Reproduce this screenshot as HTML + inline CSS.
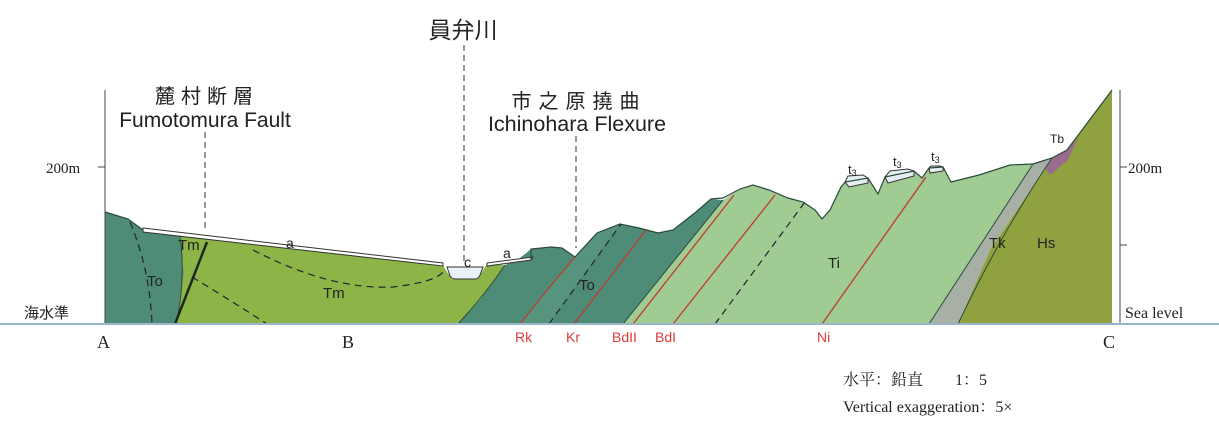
<!DOCTYPE html>
<html><head><meta charset="utf-8"><style>
body{margin:0;background:#fff;}
svg{display:block;}
text{font-family:"Liberation Sans","Noto Sans CJK JP",sans-serif;}
.s{font-family:"Liberation Serif","Noto Serif CJK SC",serif;}
</style></head><body>
<svg width="1219" height="427" viewBox="0 0 1219 427" xmlns="http://www.w3.org/2000/svg">
<polygon fill="#a0cc93" points="610,324 623,324 723,200 740,189 753,185 769,190 788,198 803,202 815,210 822,219 830,210 841,187 845,182 868,178 878,194 885,177 914,171 922,178 929,168 943,167 951,182 979,175 1010,165 1033,164 1052,158 929,324"/>
<polygon fill="#a8b0a6" points="929,324 1033,164 1052,158 990,250 958,324"/>
<polygon fill="#8fa23f" points="958,324 990,250 1052,158 1067,150 1112,90 1112,324"/>
<polygon fill="#9a6c8c" points="1045,168 1052,158 1067,150 1078,138 1068,160 1050,175"/>
<polygon fill="#4f8c78" points="458,324 480,300 505,265 520,258 531,249 551,247 562,248 575,257 597,233 620,224 639,228 658,233 673,230 696,212 711,199 723,200 623,324"/>
<polygon fill="#5d9a82" opacity="0.6" points="520,324 575,257 597,233 620,224 549,324"/>
<polygon fill="#8cb447" points="176,324 180,280 180,236 443,265 447,272 452,279 478,279 483,270 487,264 505,265 480,300 458,324"/>
<polygon fill="#4f8c78" points="105,324 105,212 128,219 143,230 180,235 184,270 176,324"/>
<polygon fill="#8cb447" points="180,235 207,239 190,280 183,270"/>
<polygon fill="#fff" stroke="#333" stroke-width="1" points="143,228 443,263 443,266 143,232"/>
<polygon fill="#fff" stroke="#333" stroke-width="1" points="487,263 533,257 531,260 487,266"/>
<path d="M447,267 L450,276 Q452,279 456,279 L476,279 Q479,278 480,275 L483,267 Z" fill="#e8f2f8" stroke="#333" stroke-width="1"/>
<polygon fill="#e6eef4" stroke="#333" stroke-width="1" points="845,182 849,187 868,183 868,178 863,175 848,176"/>
<polygon fill="#e6eef4" stroke="#333" stroke-width="1" points="885,177 888,183 914,176 914,171 908,169 890,171"/>
<polygon fill="#e6eef4" stroke="#333" stroke-width="1" points="929,168 930,173 943,171 943,167 940,166 931,166"/>
<polyline fill="none" stroke="#2a4a3a" stroke-width="1.2" points="105,212 128,219 143,230"/>
<polyline fill="none" stroke="#2a4a3a" stroke-width="1.2" points="531,260 531,249 551,247 562,248 575,257 597,233 620,224 639,228 658,233 673,230 696,212 711,199 723,198 740,189 753,185 769,190 788,198 803,202 815,210 822,219 830,210 841,187 845,182 868,178 878,194 885,177 914,171 922,178 929,168 943,167 951,182 979,175 1010,165 1033,164 1052,158 1067,150 1112,90"/>
<path d="M176,324 Q186,280 180,236" fill="none" stroke="#2a4a3a" stroke-width="1"/>
<path d="M458,324 Q485,295 505,265" fill="none" stroke="#2a4a3a" stroke-width="1"/>
<line x1="623" y1="324" x2="723" y2="200" stroke="#2a4a3a" stroke-width="1"/>
<line x1="929" y1="324" x2="1033" y2="164" stroke="#2a4a3a" stroke-width="1"/>
<path d="M958,324 Q1000,235 1052,158" fill="none" stroke="#2a4a3a" stroke-width="1"/>
<line x1="175" y1="324" x2="207" y2="242" stroke="#1a2a20" stroke-width="2.5"/>
<g fill="none" stroke="#223" stroke-width="1.2" stroke-dasharray="7,5">
<path d="M130,222 Q150,270 152,324"/>
<path d="M253,250 Q330,290 393,287 Q435,282 443,272"/>
<path d="M192,277 Q230,300 267,324"/>
<path d="M549,324 L621,224"/>
<path d="M715,324 L805,202"/>
</g>
<g fill="none" stroke="#c03a2a" stroke-width="1.3">
<path d="M520,324 Q555,280 575,257"/>
<path d="M574,324 L646,230"/>
<path d="M633,324 L734,195"/>
<path d="M673,324 L775,195"/>
<path d="M822,324 L926,177"/>
</g>
<line x1="105" y1="90" x2="105" y2="324" stroke="#444" stroke-width="1"/>
<line x1="1120" y1="90" x2="1120" y2="324" stroke="#444" stroke-width="1"/>
<line x1="98" y1="167" x2="105" y2="167" stroke="#444"/>
<line x1="1120" y1="167" x2="1127" y2="167" stroke="#444"/>
<line x1="1120" y1="245" x2="1127" y2="245" stroke="#444"/>
<line x1="0" y1="324" x2="1219" y2="324" stroke="#9ab6c8" stroke-width="2"/>
<g stroke="#333" stroke-width="1" stroke-dasharray="6,4">
<line x1="205" y1="132" x2="205" y2="232"/>
<line x1="464" y1="45" x2="464" y2="262"/>
<line x1="576" y1="136" x2="576" y2="248"/>
</g>
<g fill="#222">
<text x="207" y="103" font-size="20" text-anchor="middle" letter-spacing="6">麓村断層</text>
<text x="205" y="127" font-size="21" text-anchor="middle">Fumotomura Fault</text>
<text x="463" y="38" font-size="23" text-anchor="middle">員弁川</text>
<text x="579" y="108" font-size="20" text-anchor="middle" letter-spacing="7">市之原撓曲</text>
<text x="577" y="131" font-size="21.5" text-anchor="middle">Ichinohara Flexure</text>
<text class="s" x="46" y="173" font-size="15">200m</text>
<text class="s" x="1128" y="173" font-size="15">200m</text>
<text x="24" y="318" font-size="15">海水準</text>
<text class="s" x="1125" y="318" font-size="16">Sea level</text>
<text class="s" x="97" y="348" font-size="18">A</text>
<text class="s" x="342" y="348" font-size="18">B</text>
<text class="s" x="1103" y="348" font-size="18">C</text>
<text x="286" y="248" font-size="14">a</text>
<text x="503" y="258" font-size="14">a</text>
<text x="464" y="267" font-size="14">c</text>
<text x="178" y="250" font-size="15">Tm</text>
<text x="323" y="298" font-size="15">Tm</text>
<text x="147" y="286" font-size="15">To</text>
<text x="579" y="290" font-size="15">To</text>
<text x="828" y="268" font-size="15">Ti</text>
<text x="989" y="248" font-size="15">Tk</text>
<text x="1037" y="248" font-size="15">Hs</text>
<text x="1050" y="143" font-size="12">Tb</text>
<text x="848" y="174" font-size="13">t<tspan font-size="9" dy="2">3</tspan></text>
<text x="893" y="166" font-size="13">t<tspan font-size="9" dy="2">3</tspan></text>
<text x="931" y="161" font-size="13">t<tspan font-size="9" dy="2">3</tspan></text>
</g>
<g fill="#e03a3a" font-size="14">
<text x="515" y="342">Rk</text>
<text x="566" y="342">Kr</text>
<text x="612" y="342">BdII</text>
<text x="655" y="342">BdI</text>
<text x="817" y="342">Ni</text>
</g>
<g fill="#222">
<text class="s" x="843" y="385" font-size="16">水平：鉛直　　1：5</text>
<text class="s" x="843" y="412" font-size="16">Vertical exaggeration：5×</text>
</g>
</svg>
</body></html>
